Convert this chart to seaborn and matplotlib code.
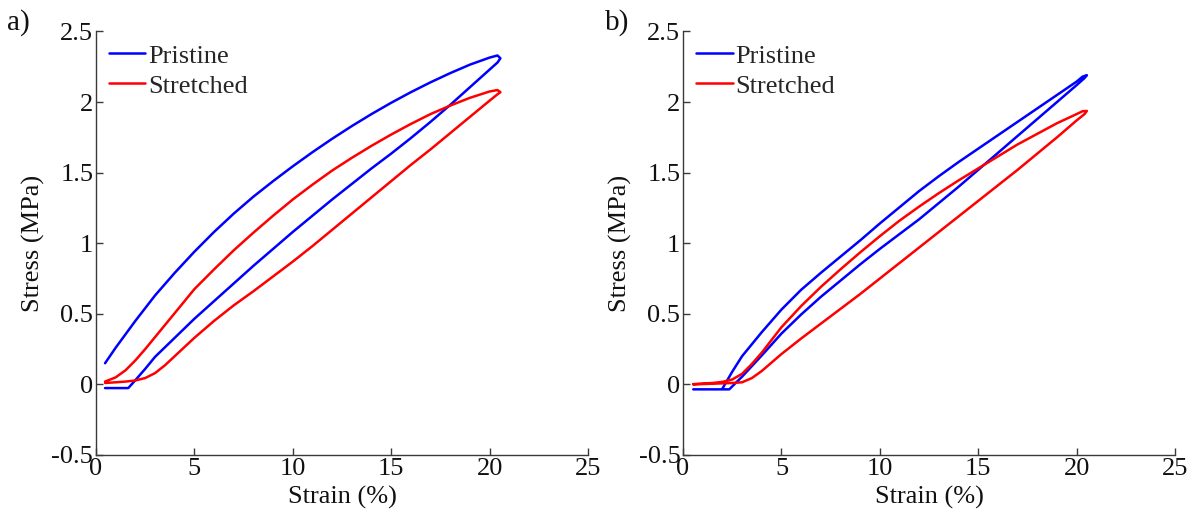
import matplotlib
matplotlib.use("Agg")
import matplotlib.pyplot as plt
from matplotlib.ticker import FuncFormatter
import numpy as np
import pandas as pd
import seaborn as sns

# ---- cyclic stress-strain loops (strain in %, stress in MPa) ----
# Panel a, pristine: loading branch, then unloading branch back to the start
a_pristine_load_strain = [0.46, 1.64, 2.0, 2.5, 3.0, 4.0, 5.0, 6.0, 7.0, 8.0, 9.0, 10.0, 11.0, 12.0,
                          13.0, 14.0, 15.0, 16.0, 17.0, 18.0, 19.0, 20.0, 20.4, 20.55]
a_pristine_load_stress = [-0.026, -0.026, 0.03, 0.11, 0.195, 0.33, 0.465, 0.59, 0.715, 0.84, 0.96, 1.08,
                          1.195, 1.31, 1.42, 1.53, 1.635, 1.745, 1.86, 1.98, 2.105, 2.23, 2.28, 2.31]
a_pristine_unload_strain = [20.55, 20.4, 20.0, 19.0, 18.0, 17.0, 16.0, 15.0, 14.0, 13.0, 12.0, 11.0, 10.0,
                            9.0, 8.0, 7.0, 6.0, 5.0, 4.0, 3.0, 2.0, 1.0, 0.46]
a_pristine_unload_stress = [2.31, 2.33, 2.315, 2.265, 2.205, 2.14, 2.07, 1.995, 1.915, 1.83, 1.74, 1.645,
                            1.545, 1.44, 1.33, 1.21, 1.08, 0.94, 0.79, 0.63, 0.45, 0.26, 0.15]

# Panel a, stretched
a_stretched_load_strain = [0.46, 1.0, 1.5, 2.0, 2.5, 3.0, 3.5, 4.0, 5.0, 6.0, 7.0, 8.0, 9.0, 10.0, 11.0,
                           12.0, 13.0, 14.0, 15.0, 16.0, 17.0, 18.0, 19.0, 20.0, 20.4, 20.55]
a_stretched_load_stress = [0.01, 0.015, 0.02, 0.028, 0.045, 0.08, 0.135, 0.20, 0.33, 0.45, 0.56, 0.66,
                           0.765, 0.87, 0.98, 1.095, 1.21, 1.325, 1.44, 1.555, 1.665, 1.78, 1.895,
                           2.01, 2.055, 2.07]
a_stretched_unload_strain = [20.55, 20.4, 20.0, 19.0, 18.0, 17.0, 16.0, 15.0, 14.0, 13.0, 12.0, 11.0,
                             10.0, 9.0, 8.0, 7.0, 6.0, 5.0, 4.0, 3.0, 2.5, 2.0, 1.5, 1.0, 0.46]
a_stretched_unload_stress = [2.07, 2.085, 2.075, 2.03, 1.975, 1.915, 1.845, 1.77, 1.69, 1.605, 1.515,
                             1.415, 1.31, 1.195, 1.075, 0.95, 0.815, 0.675, 0.505, 0.335, 0.25, 0.17,
                             0.10, 0.05, 0.02]

# Panel b, pristine
b_pristine_load_strain = [0.52, 2.35, 2.6, 3.0, 3.5, 4.0, 5.0, 6.0, 7.0, 8.0, 9.0, 10.0, 11.0, 12.0,
                          13.0, 14.0, 15.0, 16.0, 17.0, 18.0, 19.0, 20.0, 20.4, 20.52]
b_pristine_load_stress = [-0.035, -0.035, 0.0, 0.055, 0.13, 0.205, 0.36, 0.495, 0.62, 0.735, 0.85, 0.96,
                          1.065, 1.17, 1.285, 1.40, 1.52, 1.64, 1.76, 1.88, 2.0, 2.12, 2.17, 2.19]
b_pristine_unload_strain = [20.52, 20.3, 20.0, 19.0, 18.0, 17.0, 16.0, 15.0, 14.0, 13.0, 12.0, 11.0,
                            10.0, 9.0, 8.0, 7.0, 6.0, 5.0, 4.0, 3.5, 3.0, 2.5, 2.0]
b_pristine_unload_stress = [2.19, 2.18, 2.145, 2.05, 1.955, 1.86, 1.765, 1.67, 1.575, 1.475, 1.37,
                            1.255, 1.14, 1.02, 0.905, 0.79, 0.67, 0.53, 0.37, 0.285, 0.20, 0.09, -0.03]

# Panel b, stretched
b_stretched_load_strain = [0.52, 1.5, 2.5, 3.0, 3.5, 4.0, 5.0, 6.0, 7.0, 8.0, 9.0, 10.0, 11.0, 12.0,
                           13.0, 14.0, 15.0, 16.0, 17.0, 18.0, 19.0, 20.0, 20.4, 20.52]
b_stretched_load_stress = [0.0, 0.005, 0.01, 0.015, 0.045, 0.095, 0.215, 0.325, 0.43, 0.535, 0.64,
                           0.75, 0.86, 0.97, 1.08, 1.19, 1.30, 1.41, 1.52, 1.635, 1.75, 1.87, 1.915,
                           1.937]
b_stretched_unload_strain = [20.52, 20.3, 20.0, 19.0, 18.0, 17.0, 16.0, 15.0, 14.0, 13.0, 12.0, 11.0,
                             10.0, 9.0, 8.0, 7.0, 6.0, 5.0, 4.0, 3.5, 3.0, 2.5, 2.0, 1.5, 0.52]
b_stretched_unload_stress = [1.937, 1.935, 1.915, 1.85, 1.775, 1.70, 1.615, 1.53, 1.445, 1.355, 1.26,
                             1.16, 1.05, 0.935, 0.815, 0.69, 0.555, 0.405, 0.225, 0.145, 0.075, 0.035,
                             0.018, 0.01, 0.002]

series_names = ["Pristine", "Stretched"]
series_colors = {"Pristine": "#0000ff", "Stretched": "#ff0000"}
panel_tags = ["a)", "b)"]
x_ticks = [0, 5, 10, 15, 20, 25]
y_ticks = [-0.5, 0, 0.5, 1, 1.5, 2, 2.5]


def loop_frame(name, load_x, load_y, unload_x, unload_y):
    x = list(load_x) + list(unload_x)
    y = list(load_y) + list(unload_y)
    return pd.DataFrame({"Strain": x, "Stress": y, "Sample": name})


panels = [
    pd.concat([
        loop_frame("Pristine", a_pristine_load_strain, a_pristine_load_stress,
                   a_pristine_unload_strain, a_pristine_unload_stress),
        loop_frame("Stretched", a_stretched_load_strain, a_stretched_load_stress,
                   a_stretched_unload_strain, a_stretched_unload_stress),
    ], ignore_index=True),
    pd.concat([
        loop_frame("Pristine", b_pristine_load_strain, b_pristine_load_stress,
                   b_pristine_unload_strain, b_pristine_unload_stress),
        loop_frame("Stretched", b_stretched_load_strain, b_stretched_load_stress,
                   b_stretched_unload_strain, b_stretched_unload_stress),
    ], ignore_index=True),
]

sns.set_theme(style="ticks")
plt.rcParams["font.family"] = ["Liberation Serif", "DejaVu Serif"]
plt.rcParams["axes.unicode_minus"] = False
plt.rcParams["xtick.direction"] = "in"
plt.rcParams["ytick.direction"] = "in"

fig = plt.figure(figsize=(11.91, 5.11), dpi=100)
axes_pos = [[0.0806, 0.1096, 0.4131, 0.8288], [0.5735, 0.1096, 0.4131, 0.8288]]
tag_pos = [(0.006, 0.955), (0.508, 0.955)]
fmt = FuncFormatter(lambda v, p: f"{v:g}")
edge = "#3a3a3a"

for i, df in enumerate(panels):
    ax = fig.add_axes(axes_pos[i])
    sns.lineplot(data=df, x="Strain", y="Stress", hue="Sample", units="Sample",
                 estimator=None, sort=False, palette=series_colors,
                 hue_order=series_names, linewidth=1.8, ax=ax)
    for ln in ax.lines:
        ln.set_solid_joinstyle("round")
        ln.set_solid_capstyle("round")
    ax.set_xlim(0, 25)
    ax.set_ylim(-0.5, 2.5)
    ax.set_xticks(x_ticks)
    ax.set_yticks(y_ticks)
    ax.xaxis.set_major_formatter(fmt)
    ax.yaxis.set_major_formatter(fmt)
    ax.tick_params(labelsize=19, length=5, width=1, color=edge, pad=2,
                   labelcolor="#111111")
    for side in ["top", "right"]:
        ax.spines[side].set_visible(False)
    for side in ["left", "bottom"]:
        ax.spines[side].set_color(edge)
        ax.spines[side].set_linewidth(1.0)
    ax.set_xlabel("Strain (%)", fontsize=19, labelpad=4.5, color="#111111")
    ax.set_ylabel("Stress (MPa)", fontsize=19, labelpad=5, color="#111111")
    ax.legend(loc="upper left", frameon=False, fontsize=19, title=None,
              handlelength=1.4, handletextpad=0.1, labelspacing=0.25,
              borderaxespad=0.0, bbox_to_anchor=(0.004, 0.995))
    fig.text(tag_pos[i][0], tag_pos[i][1], panel_tags[i], fontsize=21,
             ha="left", va="center", color="#111111")

fig.savefig("out.png", dpi=100, facecolor="white")
